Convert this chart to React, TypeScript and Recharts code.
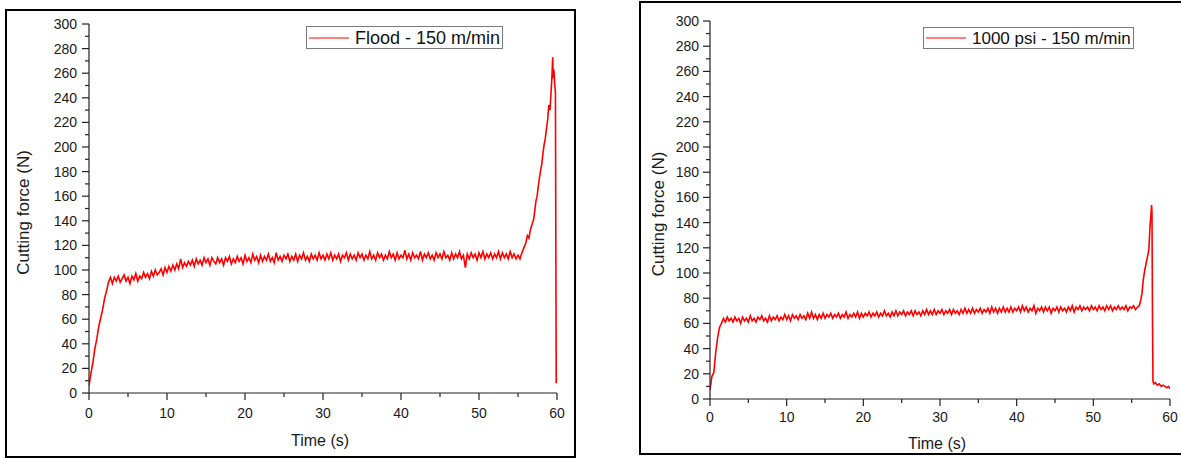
import React from 'react';
import { LineChart, Line, XAxis, YAxis, Legend, Label } from 'recharts';

// ---------- data ----------
const SAMPLE_STEP = 0.25; // s, sampling grid of the steady part

const FLOOD_NAME = 'Flood - 150 m/min';
const FLOOD_STEADY = [
  6, 16, 25, 36, 44, 54, 61, 68, 77, 83, 90, 94,
  89, 94, 91, 95, 90, 93, 96, 91, 94, 89, 95, 92,
  97, 91, 95, 93, 98, 94, 97, 93, 99, 95, 100, 96,
  98, 101, 96, 102, 98, 103, 99, 104, 100, 105, 101, 109,
  102, 106, 103, 107, 104, 108, 103, 109, 105, 108, 104, 110,
  106, 109, 104, 110, 107, 105, 110, 106, 109, 104, 110, 107,
  111, 105, 109, 106, 111, 107, 110, 105, 112, 107, 110, 106,
  113, 108, 111, 106, 112, 107, 111, 108, 113, 107, 110, 106,
  114, 108, 111, 107, 112, 109, 113, 107, 111, 108, 113, 107,
  112, 109, 114, 108, 111, 107, 113, 109, 112, 108, 114, 109,
  112, 108, 113, 109, 114, 108, 112, 109, 113, 107, 112, 110,
  114, 108, 113, 109, 112, 108, 114, 110, 113, 108, 112, 109,
  115, 109, 112, 108, 114, 110, 113, 108, 112, 109, 115, 110,
  113, 108, 114, 109, 112, 110, 116, 109, 113, 108, 114, 110,
  112, 109, 115, 108, 113, 110, 114, 109, 112, 108, 114, 110,
  113, 109, 115, 110, 112, 108, 114, 109, 113, 110, 115, 109,
  112, 102, 113, 109, 114, 110, 113, 108, 114, 110, 115, 109,
  113, 110, 114, 109, 113, 110, 115, 109, 114, 110, 113, 109,
  115, 110, 113, 109, 112,
];
const FLOOD_END_TIME = [
  55.25, 55.5, 55.75, 56.0, 56.2, 56.4, 56.6, 56.8, 57.0, 57.15, 57.3, 57.45, 57.6, 57.75,
  57.9, 58.05, 58.2, 58.35, 58.5, 58.65, 58.8, 58.95, 59.1, 59.25, 59.35, 59.45, 59.5, 59.6,
  59.7, 59.8, 59.9,
];
const FLOOD_END_FORCE = [
  109, 114, 118, 122, 128, 126, 133, 137, 141, 148, 156, 160, 168, 175,
  181, 186, 195, 202, 207, 215, 222, 234, 230, 246, 257, 273, 256, 263,
  252, 244, 8,
];

const MQL_NAME = '1000 psi - 150 m/min';
const MQL_STEADY = [
  7, 18, 21, 37, 49, 57, 60, 64, 61, 65, 62, 64,
  61, 65, 62, 64, 60, 65, 62, 64, 61, 66, 62, 64,
  61, 65, 63, 66, 62, 64, 61, 66, 62, 65, 63, 66,
  62, 65, 63, 67, 63, 66, 62, 67, 64, 66, 63, 67,
  64, 66, 63, 68, 64, 69, 64, 67, 63, 67, 64, 68,
  64, 67, 65, 68, 64, 67, 65, 68, 64, 67, 65, 69,
  64, 67, 65, 68, 65, 69, 64, 68, 65, 68, 66, 69,
  65, 68, 66, 69, 65, 68, 66, 70, 66, 68, 65, 69,
  66, 70, 66, 69, 67, 70, 66, 69, 67, 70, 66, 70,
  67, 69, 66, 70, 67, 71, 67, 70, 67, 71, 67, 70,
  68, 71, 67, 70, 68, 71, 67, 71, 68, 70, 67, 71,
  68, 72, 68, 71, 68, 72, 68, 71, 69, 72, 68, 71,
  69, 72, 68, 73, 69, 72, 68, 72, 69, 73, 69, 72,
  69, 73, 69, 72, 70, 73, 69, 74, 70, 73, 69, 72,
  70, 74, 68, 72, 70, 73, 69, 73, 70, 73, 68, 72,
  70, 73, 69, 73, 70, 72, 69, 73, 70, 74, 69, 73,
  71, 74, 70, 73, 71, 73, 70, 74, 71, 73, 70, 74,
  71, 73, 70, 74, 71, 74, 70, 73, 71, 74, 71, 73,
  71, 74, 70, 73, 72, 74, 71, 73,
];
const MQL_END_TIME = [
  56.0, 56.2, 56.35, 56.5, 56.7, 56.9, 57.1, 57.25, 57.4, 57.5, 57.6, 57.65, 57.72, 57.78,
  57.9, 58.1, 58.35, 58.6, 58.85, 59.1, 59.35, 59.6, 59.8, 60.0,
];
const MQL_END_FORCE = [
  74, 79, 84, 94, 102, 108, 114, 119, 138, 145, 154, 148, 60, 14,
  12, 13, 11, 12, 10, 11, 10, 9, 10, 8,
];

const X_TICKS = [0, 5, 10, 15, 20, 25, 30, 35, 40, 45, 50, 55, 60];
const Y_TICKS = [0, 10, 20, 30, 40, 50, 60, 70, 80, 90, 100, 110, 120, 130, 140, 150, 160, 170, 180, 190, 200, 210, 220, 230, 240, 250, 260, 270, 280, 290, 300];
const X_LABEL = 'Time (s)';
const Y_LABEL = 'Cutting force (N)';

// ---------- helpers ----------
function buildRows(steady: number[], endT: number[], endF: number[]) {
  const rows = steady.map((f, i) => ({ t: i * SAMPLE_STEP, f }));
  endT.forEach((t, i) => rows.push({ t, f: endF[i] }));
  return rows;
}
const floodRows = buildRows(FLOOD_STEADY, FLOOD_END_TIME, FLOOD_END_FORCE);
const mqlRows = buildRows(MQL_STEADY, MQL_END_TIME, MQL_END_FORCE);

const FONT = '"Liberation Sans", Arial, "DejaVu Sans", sans-serif';
const AXIS = '#222';
const TEXT = '#1a1a1a';
const RED = '#ff0000';

const makeXTick = (labelOffset: number) => (props: any) => {
  const { x, y, payload } = props;
  const v = payload.value;
  const major = v % 10 === 0;
  return (
    <g>
      <line x1={x} x2={x} y1={y} y2={y + (major ? 7 : 4)} stroke={AXIS} strokeWidth={1.2} />
      {major && (
        <text x={x} y={y + labelOffset} dy="0.35em" textAnchor="middle" fill={TEXT} fontSize={14} fontFamily={FONT}>
          {v}
        </text>
      )}
    </g>
  );
};

const makeYTick = (gap: number) => (props: any) => {
  const { x, y, payload } = props;
  const v = payload.value;
  const major = v % 20 === 0;
  return (
    <g>
      <line x1={x - (major ? 7 : 4)} x2={x} y1={y} y2={y} stroke={AXIS} strokeWidth={1.2} />
      {major && (
        <text x={x - gap} y={y} dy="0.35em" textAnchor="end" fill={TEXT} fontSize={14} fontFamily={FONT}>
          {v}
        </text>
      )}
    </g>
  );
};

const makeXLabel = (dy: number) => (props: any) => {
  const vb = props.viewBox || {};
  return (
    <text x={vb.x + vb.width / 2 - 3} y={vb.y + dy} dy="0.35em" textAnchor="middle" fill={TEXT} fontSize={16} fontFamily={FONT}>
      {X_LABEL}
    </text>
  );
};

const makeYLabel = (cx: number) => (props: any) => {
  const vb = props.viewBox || {};
  const x = vb.x + cx;
  const y = vb.y + vb.height / 2 + 4;
  return (
    <text x={x} y={y} dy="0.35em" textAnchor="middle" fill={TEXT} fontSize={17} fontFamily={FONT} transform={`rotate(-90 ${x} ${y})`}>
      {Y_LABEL}
    </text>
  );
};

const makeLegend = (boxW: number, boxH: number, fontSize: number) => (props: any) => {
  const item = (props.payload || [])[0];
  if (!item) return null;
  return (
    <div
      style={{
        boxSizing: 'border-box',
        width: boxW,
        height: boxH,
        border: '1px solid #7a7a7a',
        background: '#fff',
        display: 'flex',
        alignItems: 'center',
        paddingLeft: 2,
        fontFamily: FONT,
        fontSize,
        color: '#111',
        whiteSpace: 'nowrap',
        lineHeight: 1,
      }}
    >
      <svg width={40} height={4} style={{ display: 'block' }}>
        <line x1={0} x2={40} y1={2} y2={2} stroke={item.color || RED} strokeWidth={1} />
      </svg>
      <span style={{ marginLeft: 6 }}>{item.value}</span>
    </div>
  );
};

type PanelProps = {
  rows: { t: number; f: number }[];
  name: string;
  width: number;
  height: number;
  margin: { top: number; right: number; left: number; bottom: number };
  yWidth: number;
  xHeight: number;
  legendPos: { left: number; top: number };
  legendBox: { w: number; h: number; font: number };
  xTickOffset: number;
  yTickGap: number;
  xLabelDy: number;
  yLabelCx: number;
};

function Panel(p: PanelProps) {
  return (
    <LineChart width={p.width} height={p.height} data={p.rows} margin={p.margin}>
      <XAxis
        dataKey="t"
        type="number"
        domain={[0, 60]}
        ticks={X_TICKS}
        interval={0}
        allowDataOverflow
        height={p.xHeight}
        tickSize={0}
        tickMargin={0}
        tickLine={false}
        axisLine={{ stroke: AXIS, strokeWidth: 1.2 }}
        tick={makeXTick(p.xTickOffset)}
      >
        <Label content={makeXLabel(p.xLabelDy)} />
      </XAxis>
      <YAxis
        type="number"
        domain={[0, 300]}
        ticks={Y_TICKS}
        interval={0}
        allowDataOverflow
        width={p.yWidth}
        tickSize={0}
        tickMargin={0}
        tickLine={false}
        axisLine={{ stroke: AXIS, strokeWidth: 1.2 }}
        tick={makeYTick(p.yTickGap)}
      >
        <Label content={makeYLabel(p.yLabelCx)} />
      </YAxis>
      <Legend
        layout="horizontal"
        verticalAlign="middle"
        align="center"
        wrapperStyle={{ left: p.legendPos.left, top: p.legendPos.top, width: 'auto', height: 'auto' }}
        content={makeLegend(p.legendBox.w, p.legendBox.h, p.legendBox.font)}
      />
      <Line
        type="linear"
        dataKey="f"
        name={p.name}
        stroke={RED}
        strokeWidth={1.6}
        strokeLinejoin="miter"
        dot={false}
        activeDot={false}
        isAnimationActive={false}
      />
    </LineChart>
  );
}

export default function App() {
  return (
    <div style={{ position: 'absolute', left: 0, top: 0, width: 1181, height: 458, background: '#fff', overflow: 'hidden' }}>
      <div style={{ position: 'absolute', left: 5, top: 9, width: 571, height: 449, border: '2px solid #000', boxSizing: 'border-box' }} />
      <div style={{ position: 'absolute', left: 639, top: 1, width: 550, height: 454, border: '2px solid #000', boxSizing: 'border-box' }} />
      <div style={{ position: 'absolute', left: 6, top: 10 }}>
        <Panel
          rows={floodRows}
          name={FLOOD_NAME}
          width={569}
          height={447}
          margin={{ top: 14, right: 18, left: 0, bottom: 0 }}
          yWidth={83}
          xHeight={64}
          legendPos={{ left: 300, top: 16 }}
          legendBox={{ w: 197, h: 23, font: 18 }}
          xTickOffset={20}
          yTickGap={12}
          xLabelDy={47}
          yLabelCx={17.5}
        />
      </div>
      <div style={{ position: 'absolute', left: 641, top: 3 }}>
        <Panel
          rows={mqlRows}
          name={MQL_NAME}
          width={540}
          height={450}
          margin={{ top: 18, right: 11, left: 0, bottom: 0 }}
          yWidth={69}
          xHeight={54}
          legendPos={{ left: 282, top: 24 }}
          legendBox={{ w: 211, h: 22, font: 17 }}
          xTickOffset={18}
          yTickGap={11}
          xLabelDy={44}
          yLabelCx={17}
        />
      </div>
    </div>
  );
}
